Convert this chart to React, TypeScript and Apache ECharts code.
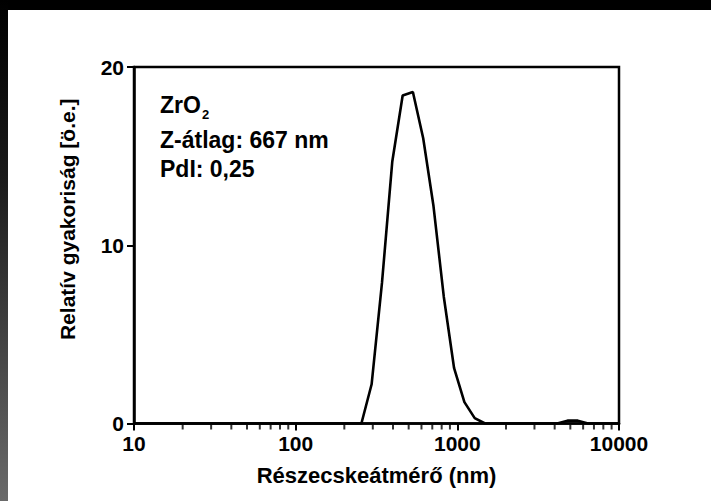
import React, { useEffect, useRef } from "react";
import * as echarts from "echarts";

// Particle size bins (nm) and relative frequency (a.u.)
const sizes = [10, 220, 255, 295, 342, 396, 459, 531, 615, 712, 825, 955, 1106, 1281, 1484, 1718, 1990, 2305, 2669, 3091, 3580, 4145, 4801, 5560, 6439, 7456, 10000];
const frequency = [0, 0, 0, 2.2, 7.9, 14.7, 18.4, 18.6, 16.0, 12.2, 7.1, 3.1, 1.2, 0.3, 0, 0, 0, 0, 0, 0, 0, 0, 0.16, 0.16, 0, 0, 0];
const minorTickValues = [20, 30, 40, 50, 60, 70, 80, 90, 200, 300, 400, 500, 600, 700, 800, 900, 2000, 3000, 4000, 5000, 6000, 7000, 8000, 9000];
const yTicks = [0, 10, 20];
const xTickLabels = ["10", "100", "1000", "10000"];
const annotationLines = ["ZrO{sub|2}", "Z-átlag: 667 nm", "PdI: 0,25"];

const FONT = "'Liberation Sans', Arial, Helvetica, sans-serif";

export default function App() {
  const ref = useRef<HTMLDivElement>(null);
  useEffect(() => {
    if (!ref.current) return;
    const chart = echarts.init(ref.current, undefined, { renderer: "svg" });
    const lineData = sizes.map((s, i) => [s, frequency[i]]);
    const option: any = {
      animation: false,
      backgroundColor: "#ffffff",
      textStyle: { fontFamily: FONT },
      grid: {
        left: 134,
        top: 67,
        width: 485,
        height: 356.5,
        show: true,
        borderColor: "#000",
        borderWidth: 2.5,
        backgroundColor: "transparent",
      },
      xAxis: {
        type: "log",
        logBase: 10,
        min: 10,
        max: 10000,
        name: "Részecskeátmérő (nm)",
        nameLocation: "middle",
        nameGap: 41,
        nameTextStyle: { fontFamily: FONT, fontWeight: "bold", fontSize: 22, color: "#000" },
        axisLine: { show: true, lineStyle: { color: "#000", width: 2.5 } },
        axisTick: { show: true, inside: false, length: 7, lineStyle: { color: "#000", width: 2 } },
        axisLabel: {
          show: true,
          margin: 9,
          fontFamily: FONT,
          fontWeight: "bold",
          fontSize: 21,
          color: "#000",
          formatter: (v: number) => {
            const s = String(Math.round(v));
            return xTickLabels.indexOf(s) >= 0 ? s : "";
          },
        },
        splitLine: { show: false },
        minorTick: { show: false },
      },
      yAxis: {
        type: "value",
        min: 0,
        max: 20,
        interval: 10,
        name: "Relatív gyakoriság [ö.e.]",
        nameLocation: "middle",
        nameGap: 56,
        nameTextStyle: {
          fontFamily: FONT,
          fontWeight: "bold",
          fontSize: 21,
          color: "#000",
          padding: [0, 0, 0, 52],
        },
        axisLine: { show: true, lineStyle: { color: "#000", width: 2.5 } },
        axisTick: { show: true, inside: false, length: 7, lineStyle: { color: "#000", width: 2 } },
        axisLabel: {
          margin: 10,
          fontFamily: FONT,
          fontWeight: "bold",
          fontSize: 21,
          color: "#000",
          formatter: (v: number) => (yTicks.indexOf(v) >= 0 ? String(v) : ""),
        },
        splitLine: { show: false },
      },
      series: [
        {
          type: "line",
          data: lineData,
          showSymbol: false,
          symbol: "none",
          smooth: false,
          lineStyle: { color: "#000", width: 2.6 },
          z: 3,
        },
        {
          type: "scatter",
          data: minorTickValues.map((v) => [v, 0]),
          symbol: "rect",
          symbolSize: [2, 5],
          symbolOffset: [0, 3.5],
          itemStyle: { color: "#000" },
          silent: true,
          clip: false,
          z: 4,
        },
      ],
      graphic: [
        {
          type: "rect",
          left: 0,
          top: 0,
          shape: { width: 711, height: 10 },
          style: { fill: "#000" },
          z: 100,
        },
        {
          type: "rect",
          left: 0,
          top: 0,
          shape: { width: 8, height: 501 },
          style: {
            fill: new echarts.graphic.LinearGradient(0, 0, 0, 1, [
              { offset: 0, color: "#000" },
              { offset: 0.35, color: "#1a1a1a" },
              { offset: 1, color: "#6a6a6a" },
            ]),
          },
          z: 100,
        },
        ...annotationLines.map((t, i) => ({
          type: "text",
          left: 160,
          top: [93, 128, 157][i],
          z: 50,
          style: {
            text: t,
            fontFamily: FONT,
            fontWeight: "bold",
            fontSize: 23,
            fill: "#000",
            rich: {
              sub: { fontFamily: FONT, fontWeight: "bold", fontSize: 13, fill: "#000", verticalAlign: "bottom", padding: [19, 0, 0, 1] },
            },
          },
        })),
      ],
    };
    chart.setOption(option);
    return () => chart.dispose();
  }, []);
  return (
    <div
      ref={ref}
      style={{ position: "fixed", left: 0, top: 0, width: 711, height: 501, background: "#fff" }}
    />
  );
}
